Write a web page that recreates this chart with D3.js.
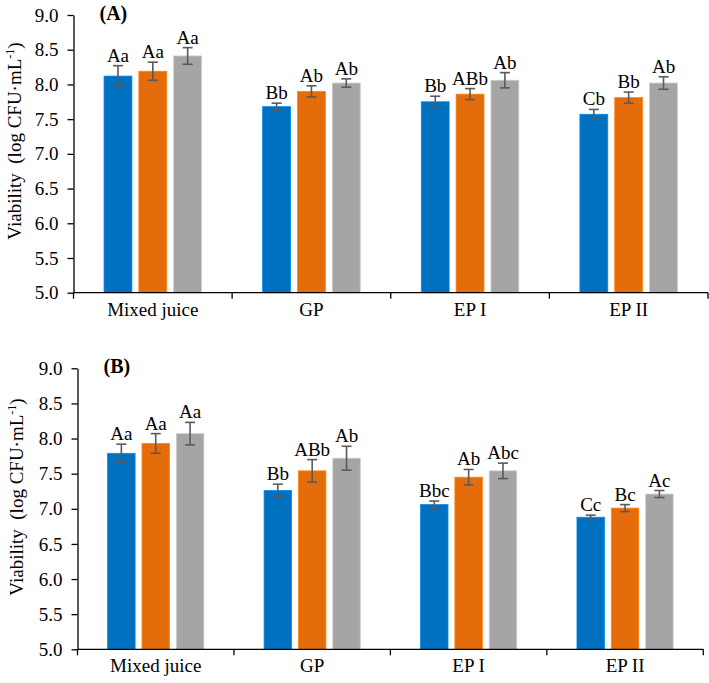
<!DOCTYPE html>
<html>
<head>
<meta charset="utf-8">
<script src="https://cdn.jsdelivr.net/npm/d3@7/dist/d3.min.js"></script>
<style>
  html, body { margin: 0; padding: 0; background: #fff; }
  svg { display: block; }
  text { font-family: "Liberation Serif", "Times New Roman", serif; }
</style>
</head>
<body>
<svg id="chart" width="709" height="683"></svg>
<script>
// ---------- data ----------
const categories = ["Mixed juice", "GP", "EP I", "EP II"];
const yTicks = [5.0, 5.5, 6.0, 6.5, 7.0, 7.5, 8.0, 8.5, 9.0];
const seriesColors = ["#0070C0", "#E46C0A", "#A5A5A5"];

// Panel A
const aSeries1 = [8.12, 7.68, 7.75, 7.57];
const aSeries2 = [8.19, 7.90, 7.86, 7.81];
const aSeries3 = [8.41, 8.02, 8.06, 8.02];
const aErr1 = [0.15, 0.05, 0.08, 0.07];
const aErr2 = [0.13, 0.08, 0.08, 0.08];
const aErr3 = [0.12, 0.06, 0.11, 0.09];
const aLabels1 = ["Aa", "Bb", "Bb", "Cb"];
const aLabels2 = ["Aa", "Ab", "ABb", "Bb"];
const aLabels3 = ["Aa", "Ab", "Ab", "Ab"];

// Panel B
const bSeries1 = [7.79, 7.26, 7.06, 6.88];
const bSeries2 = [7.93, 7.54, 7.45, 7.01];
const bSeries3 = [8.07, 7.72, 7.54, 7.21];
const bErr1 = [0.13, 0.09, 0.05, 0.03];
const bErr2 = [0.14, 0.16, 0.11, 0.05];
const bErr3 = [0.16, 0.17, 0.11, 0.05];
const bLabels1 = ["Aa", "Bb", "Bbc", "Cc"];
const bLabels2 = ["Aa", "ABb", "Ab", "Bc"];
const bLabels3 = ["Aa", "Ab", "Abc", "Ac"];

// ---------- drawing ----------
const svg = d3.select("#chart");
const FS = 19;

function drawPanel(cfg) {
  const g = svg.append("g");
  const x = d3.scaleBand().domain(categories).range([cfg.left, cfg.right]).paddingInner(0).paddingOuter(0);
  const y = d3.scaleLinear().domain([5, 9]).range([cfg.bottom, cfg.top]);
  const bw = x.bandwidth();
  const groupW = bw * 0.615;
  const x1 = d3.scaleBand().domain([0, 1, 2]).range([bw / 2 - groupW / 2, bw / 2 + groupW / 2]).paddingInner(0.2);

  cfg.series.forEach((vals, si) => {
    const errs = cfg.errs[si];
    const labs = cfg.labels[si];
    const data = categories.map((c, i) => ({ c, v: vals[i], e: errs[i], l: labs[i] }));
    g.selectAll(null).data(data).enter().append("rect")
      .attr("x", d => x(d.c) + x1(si))
      .attr("width", x1.bandwidth())
      .attr("y", d => y(d.v))
      .attr("height", d => y(5) - y(d.v))
      .attr("fill", seriesColors[si])
      .attr("stroke", d3.color(seriesColors[si]).brighter(0.6))
      .attr("stroke-width", 0.8);

    const cx = d => x(d.c) + x1(si) + x1.bandwidth() / 2;
    const eb = g.selectAll(null).data(data).enter().append("g")
      .attr("stroke", "#5a5a5a").attr("stroke-width", 1.6);
    eb.append("line").attr("x1", cx).attr("x2", cx)
      .attr("y1", d => y(d.v + d.e)).attr("y2", d => y(d.v - d.e));
    eb.append("line").attr("x1", d => cx(d) - 5).attr("x2", d => cx(d) + 5)
      .attr("y1", d => y(d.v + d.e)).attr("y2", d => y(d.v + d.e));
    eb.append("line").attr("x1", d => cx(d) - 5).attr("x2", d => cx(d) + 5)
      .attr("y1", d => y(d.v - d.e)).attr("y2", d => y(d.v - d.e));

    g.selectAll(null).data(data).enter().append("text")
      .attr("x", cx)
      .attr("y", d => y(d.v + d.e) - 4)
      .attr("text-anchor", "middle")
      .attr("font-size", FS)
      .attr("fill", "#000")
      .text(d => d.l);
  });

  // y axis
  const yAxis = d3.axisLeft(y).tickValues(yTicks).tickFormat(d3.format(".1f"))
    .tickSize(6).tickSizeOuter(0).tickPadding(9);
  const ya = g.append("g").attr("transform", `translate(${cfg.left},0)`).call(yAxis);
  ya.select(".domain").attr("stroke", "#000").attr("stroke-width", 1.3);
  ya.selectAll(".tick line").attr("stroke", "#000").attr("stroke-width", 1.3);
  ya.selectAll(".tick text").attr("font-size", FS).attr("fill", "#000")
    .style("font-family", "'Liberation Serif', 'Times New Roman', serif");

  // x axis
  const xAxis = d3.axisBottom(x).tickSize(0).tickPadding(cfg.labelPad);
  const xa = g.append("g").attr("transform", `translate(0,${cfg.bottom})`).call(xAxis);
  xa.select(".domain").remove();
  xa.selectAll(".tick text").attr("font-size", FS).attr("fill", "#000")
    .style("font-family", "'Liberation Serif', 'Times New Roman', serif");
  g.append("line").attr("x1", cfg.left).attr("x2", cfg.right)
    .attr("y1", cfg.bottom).attr("y2", cfg.bottom)
    .attr("stroke", "#000").attr("stroke-width", 1.3);
  const bounds = categories.map(c => x(c)).concat([x.range()[1]]);
  g.selectAll(null).data(bounds).enter().append("line")
    .attr("x1", d => d).attr("x2", d => d)
    .attr("y1", cfg.bottom).attr("y2", cfg.bottom + 6)
    .attr("stroke", "#000").attr("stroke-width", 1.3);

  // panel label
  g.append("text").attr("x", cfg.left + 26).attr("y", cfg.top + 5)
    .attr("font-size", 20).attr("font-weight", "bold").text(cfg.tag);

  // y title
  const t = g.append("text")
    .attr("transform", `translate(${cfg.titleX},${cfg.titleCenter}) rotate(-90)`)
    .attr("text-anchor", "middle")
    .attr("font-size", FS)
    .attr("fill", "#000")
    .style("white-space", "pre")
    .attr("xml:space", "preserve");
  t.append("tspan").text("Viability  (log CFU\u00B7mL");
  t.append("tspan").attr("font-size", 12).attr("dy", -7).text("-1");
  t.append("tspan").attr("dy", 7).text(")");
}

drawPanel({
  left: 73.5, right: 708, top: 15, bottom: 292.7, labelPad: 10,
  series: [aSeries1, aSeries2, aSeries3],
  errs: [aErr1, aErr2, aErr3],
  labels: [aLabels1, aLabels2, aLabels3],
  tag: "(A)", titleX: 21, titleCenter: 141
});
drawPanel({
  left: 77.5, right: 703.3, top: 368.3, bottom: 649.3, labelPad: 9,
  series: [bSeries1, bSeries2, bSeries3],
  errs: [bErr1, bErr2, bErr3],
  labels: [bLabels1, bLabels2, bLabels3],
  tag: "(B)", titleX: 23, titleCenter: 497
});
</script>
</body>
</html>
